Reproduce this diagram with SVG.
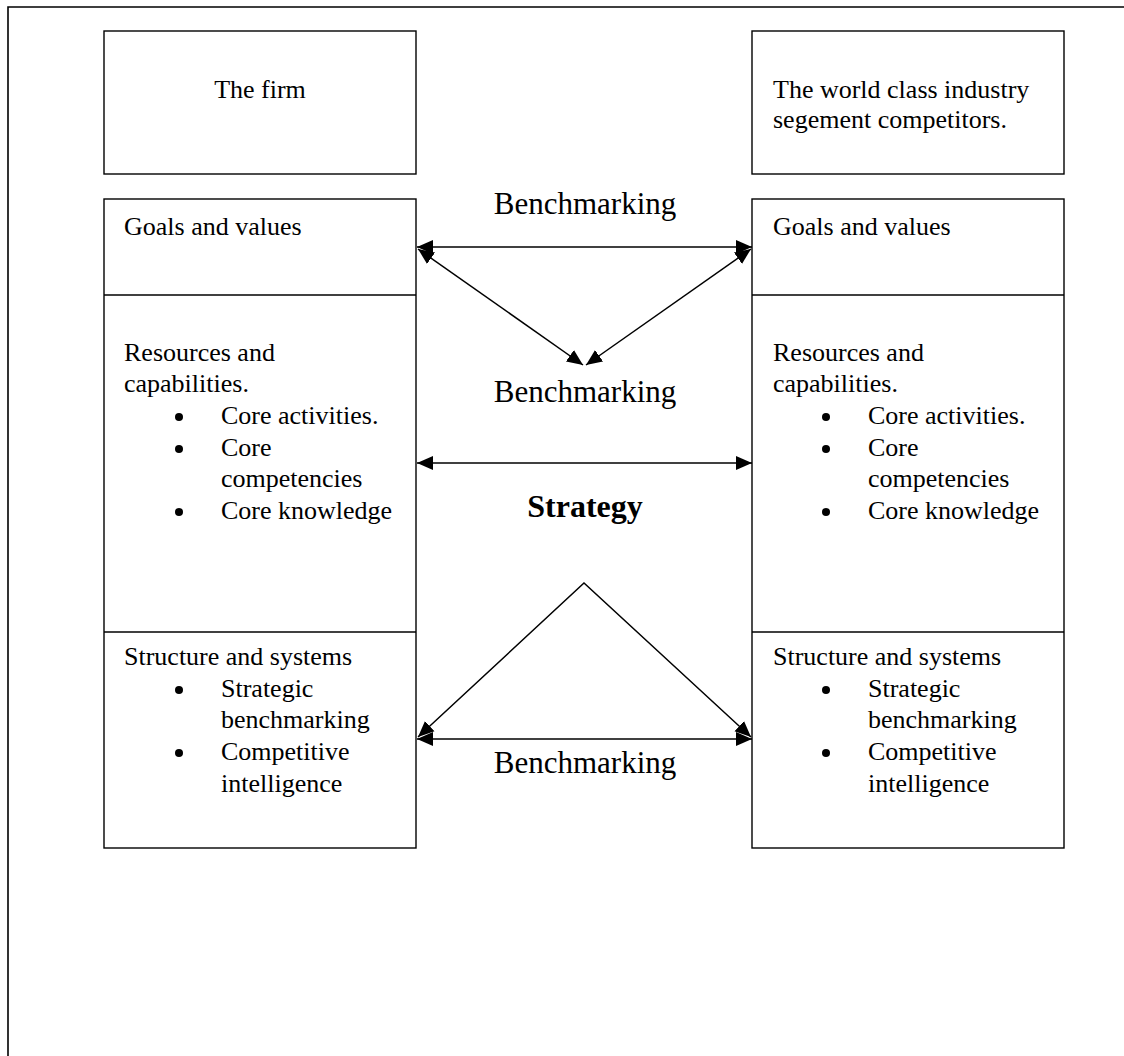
<svg xmlns="http://www.w3.org/2000/svg" width="1124" height="1056" viewBox="0 0 1124 1056">
<style>
.box{fill:#fff;stroke:#000;stroke-width:1.4}
.div{stroke:#000;stroke-width:1.4}
.t{font-family:"Liberation Serif","Times New Roman",serif;font-size:26px;fill:#000}
.lbl{font-family:"Liberation Serif","Times New Roman",serif;font-size:31px;fill:#000;text-anchor:middle}
.bold{font-family:"Liberation Serif","Times New Roman",serif;font-size:32px;font-weight:bold;fill:#000;text-anchor:middle}
.c{stroke:#000;stroke-width:1.5;fill:none}
.dot{fill:#000}
</style>
<defs>
<marker id="ah" markerUnits="userSpaceOnUse" markerWidth="18" markerHeight="16" viewBox="0 0 18 16" refX="16" refY="8" orient="auto-start-reverse">
<path d="M0,1 L16,8 L0,15 Z" fill="#000"/>
</marker>
</defs>
<rect width="1124" height="1056" fill="#fff"/>
<g id="frame"><path d="M8,1056 L8,7 L1124,7" fill="none" stroke="#000" stroke-width="1.6"/></g>

<g id="firm">
<rect class="box" x="104" y="31" width="312" height="143"/>
<text class="t" x="260" y="98" text-anchor="middle">The firm</text>
</g>
<g id="competitors">
<rect class="box" x="752" y="31" width="312" height="143"/>
<text class="t" x="773" y="98">The world class industry</text>
<text class="t" x="773" y="128">segement competitors.</text>
</g>

<g id="firm-profile">
<rect class="box" x="104" y="199" width="312" height="649"/>
<line class="div" x1="104" y1="295" x2="416" y2="295"/>
<line class="div" x1="104" y1="632" x2="416" y2="632"/>
<text class="t" x="124" y="235">Goals and values</text>
<text class="t" x="124" y="361">Resources and</text>
<text class="t" x="124" y="392">capabilities.</text>
<circle class="dot" cx="179" cy="417" r="4"/>
<text class="t" x="221" y="424">Core activities.</text>
<circle class="dot" cx="179" cy="449" r="4"/>
<text class="t" x="221" y="456">Core</text>
<text class="t" x="221" y="487">competencies</text>
<circle class="dot" cx="179" cy="512" r="4"/>
<text class="t" x="221" y="519">Core knowledge</text>
<text class="t" x="124" y="665">Structure and systems</text>
<circle class="dot" cx="179" cy="690" r="4"/>
<text class="t" x="221" y="697">Strategic</text>
<text class="t" x="221" y="728">benchmarking</text>
<circle class="dot" cx="179" cy="753" r="4"/>
<text class="t" x="221" y="760">Competitive</text>
<text class="t" x="221" y="792">intelligence</text>
</g>

<g id="competitor-profile">
<rect class="box" x="752" y="199" width="312" height="649"/>
<line class="div" x1="752" y1="295" x2="1064" y2="295"/>
<line class="div" x1="752" y1="632" x2="1064" y2="632"/>
<text class="t" x="773" y="235">Goals and values</text>
<text class="t" x="773" y="361">Resources and</text>
<text class="t" x="773" y="392">capabilities.</text>
<circle class="dot" cx="826" cy="417" r="4"/>
<text class="t" x="868" y="424">Core activities.</text>
<circle class="dot" cx="826" cy="449" r="4"/>
<text class="t" x="868" y="456">Core</text>
<text class="t" x="868" y="487">competencies</text>
<circle class="dot" cx="826" cy="512" r="4"/>
<text class="t" x="868" y="519">Core knowledge</text>
<text class="t" x="773" y="665">Structure and systems</text>
<circle class="dot" cx="826" cy="690" r="4"/>
<text class="t" x="868" y="697">Strategic</text>
<text class="t" x="868" y="728">benchmarking</text>
<circle class="dot" cx="826" cy="753" r="4"/>
<text class="t" x="868" y="760">Competitive</text>
<text class="t" x="868" y="792">intelligence</text>
</g>

<g id="connectors">
<line class="c" x1="417" y1="247" x2="752" y2="247" marker-start="url(#ah)" marker-end="url(#ah)"/>
<line class="c" x1="418" y1="249" x2="583" y2="365" marker-start="url(#ah)" marker-end="url(#ah)"/>
<line class="c" x1="751" y1="249" x2="586" y2="365" marker-start="url(#ah)" marker-end="url(#ah)"/>
<line class="c" x1="417" y1="463" x2="752" y2="463" marker-start="url(#ah)" marker-end="url(#ah)"/>
<polyline class="c" points="418,737 584,583 751,737" marker-start="url(#ah)" marker-end="url(#ah)"/>
<line class="c" x1="417" y1="739" x2="752" y2="739" marker-start="url(#ah)" marker-end="url(#ah)"/>
</g>

<g id="labels">
<text class="lbl" x="585" y="214">Benchmarking</text>
<text class="lbl" x="585" y="402">Benchmarking</text>
<text class="bold" x="585" y="517">Strategy</text>
<text class="lbl" x="585" y="773">Benchmarking</text>
</g>
</svg>
